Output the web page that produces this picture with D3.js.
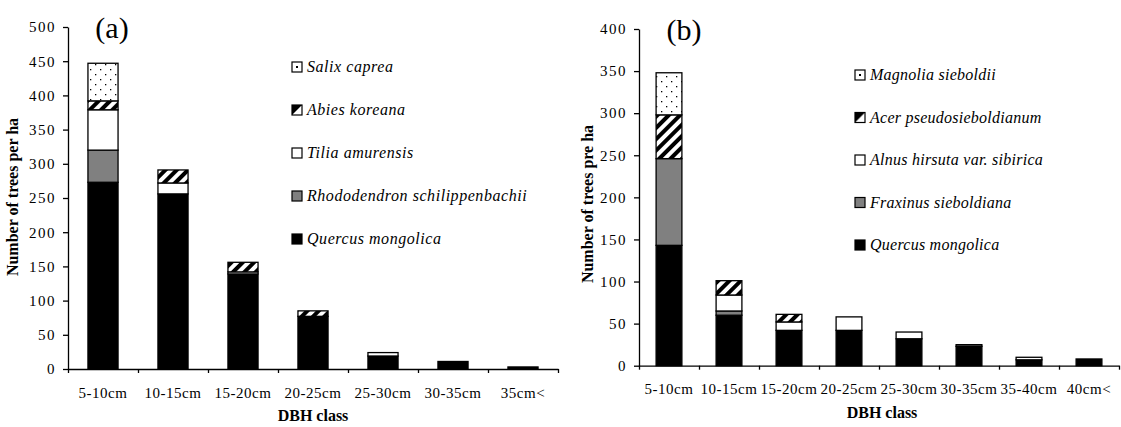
<!DOCTYPE html>
<html>
<head>
<meta charset="utf-8">
<script src="https://cdn.jsdelivr.net/npm/d3@7"></script>
<style>
  body { margin: 0; background: #fff; }
  .tick line, .domain { stroke: #000; stroke-width: 1.3; }
</style>
</head>
<body>
<svg id="chart" width="1121" height="427"></svg>
<script>
/* chart (a) data */
const classesA = ["5-10cm", "10-15cm", "15-20cm", "20-25cm", "25-30cm", "30-35cm", "35cm<"];
const speciesA = ["Quercus mongolica", "Rhododendron schilippenbachii", "Tilia amurensis", "Abies koreana", "Salix caprea"];
const quercusA = [273, 256, 139, 77, 19, 11, 3];
const rhodoA   = [47, 0, 0, 0, 0, 0, 0];
const tiliaA   = [59, 16, 3, 0, 5, 0, 0];
const abiesA   = [13, 19, 14, 8, 0, 0, 0];
const salixA   = [55, 0, 0, 0, 0, 0, 0];
const yTicksA  = [0, 50, 100, 150, 200, 250, 300, 350, 400, 450, 500];

/* chart (b) data */
const classesB = ["5-10cm", "10-15cm", "15-20cm", "20-25cm", "25-30cm", "30-35cm", "35-40cm", "40cm<"];
const speciesB = ["Quercus mongolica", "Fraxinus sieboldiana", "Alnus hirsuta var. sibirica", "Acer pseudosieboldianum", "Magnolia sieboldii"];
const quercusB  = [143, 60, 42, 42, 32, 23, 7, 8];
const fraxinusB = [103, 5, 0, 0, 0, 2, 0, 0];
const alnusB    = [0, 19, 10, 16, 8, 0, 3, 0];
const acerB     = [52, 17, 9, 0, 0, 0, 0, 0];
const magnoliaB = [50, 0, 0, 0, 0, 0, 0, 0];
const yTicksB   = [0, 50, 100, 150, 200, 250, 300, 350, 400];

const fills = ["#000", "#808080", "#fff", "url(#hatch)", "url(#dots)"];
const FONT = "Liberation Serif, Times New Roman, Times, serif";

const svg = d3.select("#chart").attr("font-family", FONT);

/* patterns */
const defs = svg.append("defs");
const hatch = defs.append("pattern").attr("id", "hatch")
  .attr("patternUnits", "userSpaceOnUse").attr("width", 8).attr("height", 8)
  .attr("patternTransform", "rotate(45)");
hatch.append("rect").attr("width", 8).attr("height", 8).attr("fill", "#fff");
hatch.append("rect").attr("width", 4).attr("height", 8).attr("fill", "#000");

const dots = defs.append("pattern").attr("id", "dots")
  .attr("patternUnits", "userSpaceOnUse").attr("width", 10).attr("height", 10);
dots.append("rect").attr("width", 10).attr("height", 10).attr("fill", "#fff");
dots.append("rect").attr("x", 2).attr("y", 2).attr("width", 1.3).attr("height", 1.3).attr("fill", "#000");
dots.append("rect").attr("x", 7).attr("y", 7).attr("width", 1.3).attr("height", 1.3).attr("fill", "#000");

/* small legend patterns */
const hs = defs.append("pattern").attr("id", "hatchSmall")
  .attr("patternUnits", "objectBoundingBox").attr("width", 1).attr("height", 1);
hs.append("rect").attr("width", 10).attr("height", 10).attr("fill", "#fff");
hs.append("path").attr("d", "M0,0 L10,0 L0,10 Z").attr("fill", "#000");
const ds = defs.append("pattern").attr("id", "dotSmall")
  .attr("patternUnits", "objectBoundingBox").attr("width", 1).attr("height", 1);
ds.append("rect").attr("width", 10).attr("height", 10).attr("fill", "#fff");
ds.append("rect").attr("x", 4).attr("y", 4).attr("width", 2).attr("height", 2).attr("fill", "#000");

/* draws one stacked panel */
const drawPanel = (cfg) => {
  const g = svg.append("g").attr("transform", `translate(${cfg.left}, ${cfg.top})`);
  const width = cfg.width, height = cfg.height;

  const x = d3.scaleBand().domain(cfg.classes).range([0, width]).paddingInner(0.57).paddingOuter(0.285);
  const y = d3.scaleLinear().domain([0, cfg.yMax]).range([height, 0]);

  const rows = cfg.classes.map((c, i) => {
    const r = { cls: c };
    cfg.series.forEach((s, k) => { r[cfg.species[k]] = s[i]; });
    return r;
  });
  const stack = d3.stack().keys(cfg.species)(rows);

  stack.forEach((layer, k) => {
    g.append("g").selectAll("rect")
      .data(layer.filter((d) => d[1] - d[0] > 0))
      .join("rect")
      .attr("x", (d) => x(d.data.cls))
      .attr("width", x.bandwidth())
      .attr("y", (d) => y(d[1]))
      .attr("height", (d) => y(d[0]) - y(d[1]))
      .attr("fill", fills[k])
      .attr("stroke", "#000")
      .attr("stroke-width", 1.3);
  });

  /* y axis */
  g.append("g")
    .call(d3.axisLeft(y).tickValues(cfg.yTicks).tickSize(5).tickSizeOuter(0).tickPadding(7))
    .attr("font-family", FONT)
    .call((a) => a.selectAll("text").attr("font-size", 15).attr("letter-spacing", 1.5));

  /* x axis boundary ticks */
  const xi = d3.scaleLinear().domain([0, cfg.classes.length]).range([0, width]);
  g.append("g").attr("transform", `translate(0, ${height})`)
    .call(d3.axisBottom(xi).ticks(cfg.classes.length).tickFormat("").tickSize(4).tickSizeOuter(0));

  /* x axis labels */
  g.append("g").attr("transform", `translate(0, ${height})`)
    .call(d3.axisBottom(x).tickSize(0).tickPadding(18))
    .attr("font-family", FONT)
    .call((a) => a.select(".domain").remove())
    .call((a) => a.selectAll("text").attr("font-size", 15).attr("letter-spacing", 0.5));

  /* titles */
  g.append("text").attr("x", cfg.tagX).attr("y", 11)
    .attr("text-anchor", "middle").attr("font-size", 30).text(cfg.tag);

  g.append("text").attr("x", width / 2 - cfg.xTitleShift).attr("y", height + 52)
    .attr("text-anchor", "middle").attr("font-size", 16).attr("font-weight", "bold")
    .text("DBH class");

  g.append("text")
    .attr("transform", `translate(${cfg.yTitleX}, ${cfg.yTitleY}) rotate(-90)`)
    .attr("text-anchor", "middle").attr("font-size", 16).attr("font-weight", "bold")
    .text(cfg.yTitle);

  /* legend, top entry is last series */
  const leg = g.append("g").attr("transform", `translate(${cfg.legX}, ${cfg.legY})`);
  cfg.species.slice().reverse().forEach((name, j) => {
    const k = cfg.species.length - 1 - j;
    const row = leg.append("g").attr("transform", `translate(0, ${j * cfg.legStep})`);
    row.append("rect").attr("x", 0).attr("y", -5).attr("width", 10).attr("height", 10)
      .attr("fill", k === 3 ? "url(#hatchSmall)" : (k === 4 ? "url(#dotSmall)" : fills[k]))
      .attr("stroke", "#000").attr("stroke-width", 1.2);
    row.append("text").attr("x", 15).attr("y", 5)
      .attr("font-size", 16).attr("font-style", "italic").attr("letter-spacing", cfg.legSpacing)
      .text(name);
  });
};

drawPanel({
  left: 68, top: 27, width: 490, height: 342, yMax: 500,
  classes: classesA, species: speciesA,
  series: [quercusA, rhodoA, tiliaA, abiesA, salixA],
  yTicks: yTicksA, tag: "(a)", tagX: 44,
  yTitle: "Number of trees per ha", yTitleX: -50, yTitleY: 170,
  xTitleShift: 0, legX: 224, legY: 40, legStep: 43, legSpacing: 0.55
});

drawPanel({
  left: 639, top: 29, width: 480, height: 336.7, yMax: 400,
  classes: classesB, species: speciesB,
  series: [quercusB, fraxinusB, alnusB, acerB, magnoliaB],
  yTicks: yTicksB, tag: "(b)", tagX: 45,
  yTitle: "Number of trees pre ha", yTitleX: -46, yTitleY: 175,
  xTitleShift: -3, legX: 216, legY: 46, legStep: 42.5, legSpacing: 0.25
});
</script>
</body>
</html>
